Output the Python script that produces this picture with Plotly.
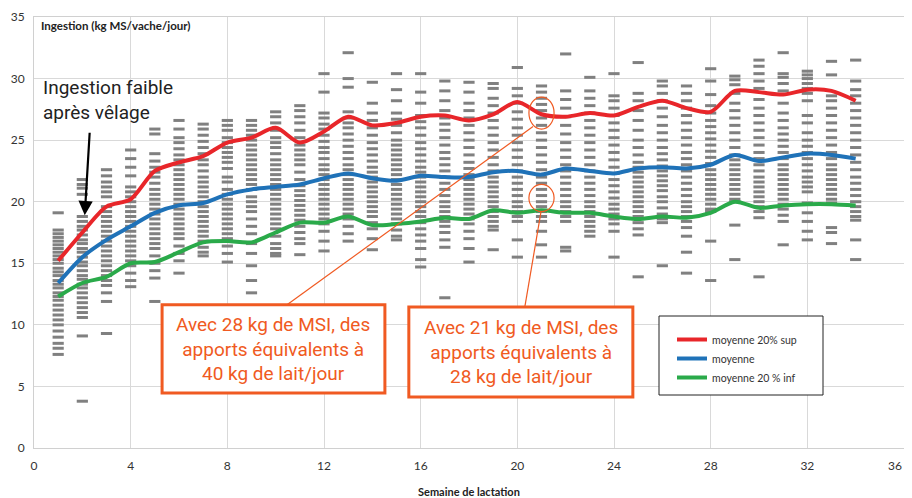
import plotly.graph_objects as go

weeks = list(range(1, 35))

individual_values = [
    [19.1, 17.7, 17.4, 17.1, 16.8, 16.5, 16.2, 15.9, 15.6, 15.3, 15.0, 14.6, 14.3, 14.0, 13.6, 13.3, 13.0, 12.6, 12.3, 12.0, 11.6, 11.2, 10.8, 10.4, 10.0, 9.5, 9.0, 8.5, 8.1, 7.6],
    [21.8, 21.4, 21.1, 20.6, 18.8, 18.4, 18.0, 17.7, 17.3, 16.9, 16.6, 16.2, 15.9, 15.5, 15.1, 14.8, 14.4, 14.0, 13.7, 13.3, 13.0, 12.6, 12.2, 11.8, 11.4, 11.0, 10.6, 9.1, 3.8],
    [22.6, 22.1, 21.6, 21.2, 20.8, 20.4, 19.6, 19.2, 18.8, 18.4, 18.0, 17.6, 17.2, 16.8, 16.4, 16.0, 15.6, 15.2, 14.8, 14.4, 14.0, 13.6, 13.2, 12.6, 11.9, 9.3],
    [24.2, 23.5, 22.8, 22.1, 21.2, 20.8, 20.4, 20.0, 19.6, 19.2, 18.8, 18.4, 18.0, 17.6, 17.2, 16.8, 16.4, 16.0, 15.6, 15.2, 14.8, 14.2, 13.6, 13.1],
    [25.9, 25.5, 23.9, 23.3, 22.8, 22.4, 22.0, 21.5, 21.0, 20.6, 20.2, 19.8, 19.4, 19.0, 18.6, 18.2, 17.8, 17.4, 17.0, 16.6, 16.2, 15.6, 15.0, 14.4, 13.8, 11.9],
    [26.6, 25.9, 25.2, 24.8, 24.3, 23.8, 23.4, 23.0, 22.6, 22.2, 21.8, 21.4, 21.0, 20.6, 20.2, 19.8, 19.4, 19.0, 18.6, 18.2, 17.8, 17.4, 17.0, 16.4, 15.8, 15.2, 14.2],
    [26.3, 25.9, 25.4, 24.9, 24.4, 23.9, 23.4, 23.0, 22.5, 22.0, 21.6, 21.2, 20.8, 20.4, 20.0, 19.6, 19.2, 18.8, 18.4, 18.0, 17.6, 17.2, 16.8, 16.3, 15.9, 15.6],
    [26.6, 26.2, 25.8, 25.2, 24.8, 24.4, 24.0, 23.6, 23.2, 22.7, 22.0, 21.6, 21.0, 20.6, 20.2, 19.8, 19.4, 19.0, 18.6, 18.2, 17.8, 17.4, 17.0, 16.4, 15.8, 15.1],
    [26.6, 26.2, 25.8, 25.4, 25.0, 24.6, 24.2, 23.8, 23.4, 23.0, 22.6, 22.2, 21.8, 21.4, 21.0, 20.4, 20.0, 19.6, 19.2, 18.6, 18.0, 17.4, 16.6, 15.8, 14.8, 13.6, 12.6],
    [27.3, 26.9, 26.4, 25.8, 25.2, 24.8, 24.4, 23.9, 23.4, 23.0, 22.6, 22.2, 21.8, 21.4, 21.0, 20.6, 20.2, 19.8, 19.4, 19.0, 18.6, 18.2, 17.8, 17.2, 16.6, 16.2, 15.8, 15.6],
    [27.8, 27.4, 26.9, 26.4, 25.8, 25.2, 24.6, 24.2, 23.8, 23.4, 23.0, 22.4, 21.8, 21.3, 20.9, 20.5, 20.1, 19.7, 19.3, 18.9, 18.5, 18.0, 17.5, 17.0, 16.6, 15.7],
    [30.4, 28.9, 27.2, 26.8, 26.3, 25.9, 25.4, 24.9, 24.4, 24.0, 23.5, 23.0, 22.6, 22.2, 21.8, 21.4, 21.0, 20.6, 20.2, 19.8, 19.4, 19.0, 18.6, 18.2, 17.6, 16.8, 16.0],
    [32.1, 30.0, 29.3, 27.3, 26.8, 26.4, 26.0, 25.5, 25.0, 24.5, 24.0, 23.5, 23.0, 22.6, 22.2, 21.8, 21.4, 21.0, 20.6, 20.2, 19.8, 19.4, 19.0, 18.6, 18.0, 17.4, 16.8],
    [29.7, 28.0, 27.2, 26.6, 26.0, 25.4, 24.8, 24.3, 23.8, 23.3, 22.8, 22.4, 22.0, 21.6, 21.2, 20.8, 20.4, 20.0, 19.6, 19.2, 18.8, 18.3, 17.8, 17.0, 16.1],
    [30.4, 29.1, 28.2, 27.2, 26.7, 26.2, 25.6, 25.0, 24.6, 24.2, 23.8, 23.4, 23.0, 22.6, 22.2, 21.8, 21.4, 21.0, 20.6, 20.2, 19.8, 19.4, 19.0, 18.6, 18.2, 17.7, 17.2, 16.9],
    [30.4, 28.9, 28.0, 27.0, 26.5, 26.0, 25.4, 24.8, 24.3, 23.8, 23.3, 22.8, 22.4, 22.0, 21.6, 21.2, 20.8, 20.4, 20.0, 19.6, 19.2, 18.8, 18.3, 17.8, 17.3, 16.8, 16.2, 15.3, 14.7],
    [29.8, 29.0, 28.2, 27.4, 26.8, 26.3, 25.8, 25.2, 24.6, 24.0, 23.5, 23.0, 22.5, 22.0, 21.5, 21.0, 20.5, 20.0, 19.6, 19.2, 18.8, 18.4, 18.0, 17.5, 16.9, 16.3, 12.2],
    [29.7, 28.9, 28.0, 27.4, 26.8, 26.2, 25.6, 25.0, 24.4, 23.8, 23.2, 22.7, 22.2, 21.8, 21.4, 21.0, 20.6, 20.2, 19.8, 19.4, 19.0, 18.6, 18.2, 17.6, 17.0, 16.2, 15.1],
    [29.6, 29.2, 28.4, 27.8, 27.2, 26.6, 26.0, 25.4, 24.8, 24.2, 23.6, 23.0, 22.5, 22.0, 21.6, 21.2, 20.8, 20.4, 20.0, 19.6, 19.2, 18.8, 18.4, 18.0, 17.7, 16.1],
    [30.9, 29.2, 28.6, 28.0, 27.3, 26.7, 26.0, 25.4, 24.8, 24.2, 23.6, 23.0, 22.5, 22.0, 21.5, 21.0, 20.5, 20.0, 19.6, 19.2, 18.8, 18.4, 16.9, 15.5],
    [29.4, 28.9, 28.4, 27.9, 27.4, 26.8, 26.2, 25.6, 25.0, 24.4, 23.8, 23.2, 22.6, 22.0, 21.5, 21.0, 20.5, 20.0, 19.6, 19.2, 18.8, 18.4, 17.6, 16.5, 15.5],
    [32.0, 29.0, 28.3, 27.6, 26.9, 26.2, 25.5, 24.8, 24.2, 23.6, 23.0, 22.5, 22.0, 21.5, 21.0, 20.5, 20.0, 19.6, 19.2, 18.8, 18.4, 16.3, 16.0],
    [30.1, 29.0, 28.4, 27.8, 27.2, 26.6, 26.0, 25.4, 24.8, 24.2, 23.6, 23.0, 22.5, 22.0, 21.5, 21.0, 20.5, 20.0, 19.6, 19.2, 18.8, 18.4, 18.0, 17.6, 17.2],
    [30.4, 28.6, 28.2, 27.6, 27.0, 26.4, 25.8, 25.2, 24.6, 24.0, 23.4, 22.8, 22.3, 21.8, 21.3, 20.8, 20.3, 19.8, 19.4, 19.0, 18.6, 18.2, 17.6, 15.5],
    [31.3, 28.8, 28.2, 27.4, 26.6, 25.8, 25.0, 24.4, 23.8, 23.2, 22.8, 22.4, 22.0, 21.6, 21.2, 20.8, 20.4, 20.0, 19.6, 19.2, 18.8, 18.3, 17.8, 17.3, 13.9],
    [29.8, 29.4, 28.8, 28.2, 27.6, 26.9, 26.2, 25.6, 25.0, 24.4, 23.9, 23.4, 22.9, 22.5, 22.1, 21.7, 21.3, 20.9, 20.4, 20.0, 19.5, 19.0, 18.6, 18.3, 14.8],
    [29.4, 28.8, 28.2, 27.6, 27.0, 26.4, 25.8, 25.2, 24.6, 24.0, 23.5, 23.0, 22.5, 22.0, 21.5, 21.0, 20.5, 20.0, 19.6, 19.2, 18.8, 18.4, 17.9, 17.2, 15.9, 14.2],
    [30.8, 29.8, 28.7, 27.8, 27.2, 26.6, 26.1, 25.6, 25.1, 24.6, 24.1, 23.6, 23.1, 22.6, 22.2, 21.8, 21.4, 21.0, 20.6, 20.2, 19.8, 19.4, 19.2, 16.8, 13.6],
    [30.2, 29.9, 29.5, 28.8, 28.0, 27.4, 26.8, 26.2, 25.6, 25.0, 24.4, 23.8, 23.4, 23.0, 22.6, 22.2, 21.8, 21.4, 21.0, 20.6, 20.2, 20.0, 18.1, 15.3],
    [31.5, 31.0, 30.4, 29.8, 29.2, 28.3, 27.6, 27.0, 26.4, 25.8, 25.2, 24.6, 24.0, 23.5, 23.0, 22.5, 22.0, 21.6, 21.2, 20.8, 20.4, 20.0, 19.6, 19.2, 18.7, 13.9],
    [32.1, 30.4, 30.1, 29.6, 29.0, 28.0, 27.2, 26.6, 26.0, 25.5, 25.0, 24.5, 24.0, 23.5, 23.0, 22.6, 22.2, 21.8, 21.4, 21.0, 20.6, 20.2, 19.8, 19.4, 18.9, 18.4, 16.5],
    [30.6, 30.3, 30.0, 29.6, 29.2, 28.8, 28.2, 27.0, 26.4, 25.6, 25.0, 24.5, 24.0, 23.5, 23.0, 22.5, 22.0, 21.6, 21.2, 20.8, 19.9, 19.1, 18.4, 17.6, 16.9],
    [31.4, 30.3, 28.6, 28.2, 27.6, 27.0, 26.4, 25.8, 25.2, 24.6, 24.0, 23.5, 23.0, 22.6, 22.2, 21.8, 21.4, 21.0, 20.6, 20.2, 19.9, 17.9, 17.5, 16.6],
    [31.5, 29.8, 29.1, 28.6, 28.0, 27.4, 26.8, 26.2, 25.6, 25.0, 24.4, 23.8, 23.2, 22.6, 22.0, 21.5, 21.0, 20.5, 20.0, 19.6, 19.2, 18.8, 18.5, 16.9, 15.3],
]

moyenne_sup = [15.2, 17.5, 19.6, 20.2, 22.5, 23.2, 23.7, 24.8, 25.2, 26.0, 24.8, 25.7, 26.9, 26.2, 26.4, 26.9, 27.0, 26.6, 27.1, 28.1,
               27.1, 26.9, 27.2, 27.0, 27.7, 28.2, 27.6, 27.3, 29.0, 28.9, 28.7, 29.1, 29.0, 28.2]
moyenne = [13.4, 15.5, 16.9, 18.0, 19.1, 19.7, 19.9, 20.6, 21.0, 21.2, 21.4, 21.9, 22.3, 21.9, 21.7, 22.1, 22.0, 22.0, 22.4, 22.5,
           22.2, 22.7, 22.5, 22.3, 22.7, 22.8, 22.7, 23.0, 23.8, 23.3, 23.6, 23.9, 23.8, 23.5]
moyenne_inf = [12.3, 13.4, 13.9, 15.0, 15.1, 15.9, 16.7, 16.8, 16.7, 17.5, 18.3, 18.3, 18.8, 18.1, 18.2, 18.4, 18.7, 18.6, 19.3, 19.1,
               19.3, 19.1, 19.1, 18.8, 18.6, 18.8, 18.7, 19.1, 20.0, 19.5, 19.7, 19.8, 19.8, 19.7]

x_ticks = [0, 4, 8, 12, 16, 20, 24, 28, 32, 36]
x_tick_labels = ["0", "4", "8", "12", "16", "20", "24", "28", "32", ""]  # last label drawn as annotation
last_x_label = "36"
y_ticks = [0, 5, 10, 15, 20, 25, 30, 35]

series = [
    ("moyenne 20% sup", moyenne_sup, "#E8262A"),
    ("moyenne", moyenne, "#1F72B8"),
    ("moyenne 20 % inf", moyenne_inf, "#2AAA4A"),
]

ORANGE = "#F05A22"

dash_x, dash_y = [], []
for w, vals in zip(weeks, individual_values):
    for v in vals:
        dash_x.append(w)
        dash_y.append(v)

fig = go.Figure()
fig.add_trace(go.Scatter(
    x=dash_x, y=dash_y, mode="markers", showlegend=False, hoverinfo="skip",
    marker=dict(symbol="line-ew", size=8, line=dict(width=3, color="#808080")),
))
for name, vals, col in series:
    fig.add_trace(go.Scatter(
        x=weeks, y=vals, mode="lines", name=name,
        line=dict(color=col, width=4, shape="spline", smoothing=0.8),
    ))

# plot area on screen: x 34..904 px, y 17..448 px (page body adds an 8 px offset)
def px_x(p):
    return (p - 34) / 870.0

def px_y(p):
    return (448 - p) / 431.0

shapes = [
    dict(type="circle", xref="x", yref="y", x0=20.48, x1=21.52, y0=25.9, y1=28.5,
         line=dict(color=ORANGE, width=1.2)),
    dict(type="circle", xref="x", yref="y", x0=20.48, x1=21.52, y0=19.2, y1=21.4,
         line=dict(color=ORANGE, width=1.2)),
    dict(type="line", xref="x", yref="y", x0=10.47, y0=11.63, x1=20.65, y1=26.1,
         line=dict(color=ORANGE, width=1.2)),
    dict(type="line", xref="x", yref="y", x0=20.31, y0=11.46, x1=20.98, y1=19.19,
         line=dict(color=ORANGE, width=1.2)),
    dict(type="rect", xref="x", yref="y", x0=5.3, x1=14.52, y0=4.47, y1=11.63,
         line=dict(color=ORANGE, width=3), fillcolor="white", layer="above"),
    dict(type="rect", xref="x", yref="y", x0=15.51, x1=24.78, y0=4.15, y1=11.46,
         line=dict(color=ORANGE, width=3), fillcolor="white", layer="above"),
    dict(type="rect", xref="paper", yref="paper", x0=px_x(659), x1=px_x(823), y0=px_y(395), y1=px_y(316),
         line=dict(color="#222", width=1), fillcolor="white", layer="above"),
]

annotations = [
    dict(x=0.2, y=34.3, xref="x", yref="y", xanchor="left", yanchor="middle", showarrow=False,
         text="<b>Ingestion (kg MS/vache/jour)</b>", font=dict(size=11.5, color="#222", family="Lato")),
    dict(x=0.3, y=28.3, xref="x", yref="y", xanchor="left", yanchor="middle", showarrow=False,
         text="Ingestion faible<br>après vêlage", align="left",
         font=dict(size=19, color="#222", family="Roboto")),
    dict(x=2.1, y=18.9, xref="x", yref="y", ax=5, ay=-84,
         showarrow=True, arrowhead=2, arrowsize=1.3, arrowwidth=2.2,
         arrowcolor="black", text=""),
    dict(x=9.91, y=8.05, xref="x", yref="y", showarrow=False, align="center",
         text="Avec 28 kg de MSI, des<br>apports équivalents à<br>40 kg de lait/jour",
         font=dict(size=19, color=ORANGE, family="Roboto")),
    dict(x=20.15, y=7.8, xref="x", yref="y", showarrow=False, align="center",
         text="Avec 21 kg de MSI, des<br>apports équivalents à<br>28 kg de lait/jour",
         font=dict(size=19, color=ORANGE, family="Roboto")),
    dict(x=0.5, y=px_y(491), xref="paper", yref="paper", yanchor="middle", xanchor="center", showarrow=False,
         text="<b>Semaine de lactation</b>", font=dict(size=11, color="#222", family="Lato")),
    dict(x=1.0, y=px_y(466), xref="paper", yref="paper", yanchor="middle", xanchor="right", showarrow=False,
         text=last_x_label, font=dict(size=12, color="#333", family="Lato")),
]

fig.update_layout(
    width=904, height=490,
    margin=dict(l=26, r=8, t=9, b=50, autoexpand=False),
    plot_bgcolor="white", paper_bgcolor="white",
    font=dict(family="Lato", size=12, color="#333"),
    shapes=shapes, annotations=annotations,
    legend=dict(x=px_x(672), y=px_y(325), xanchor="left", yanchor="top",
                borderwidth=0, bgcolor="rgba(0,0,0,0)",
                font=dict(size=10.5, color="#333", family="Lato"),
                tracegroupgap=0, itemwidth=30),
    showlegend=True,
)
fig.update_xaxes(range=[0, 36], tickvals=x_ticks, ticktext=x_tick_labels, ticks="", showgrid=True,
                 gridcolor="#d9d9d9", showline=True, linecolor="#d0d0d0", linewidth=1, mirror=True,
                 zeroline=False, automargin=False, ticklabelstandoff=7, tickfont=dict(size=12, color="#333"))
fig.update_yaxes(range=[0, 35], tickvals=y_ticks, ticks="", showgrid=True, gridcolor="#d9d9d9",
                 showline=True, linecolor="#d0d0d0", linewidth=1, mirror=True, zeroline=False,
                 automargin=False, ticklabelstandoff=6, tickfont=dict(size=12, color="#333"))

fig.write_html("out.html")
